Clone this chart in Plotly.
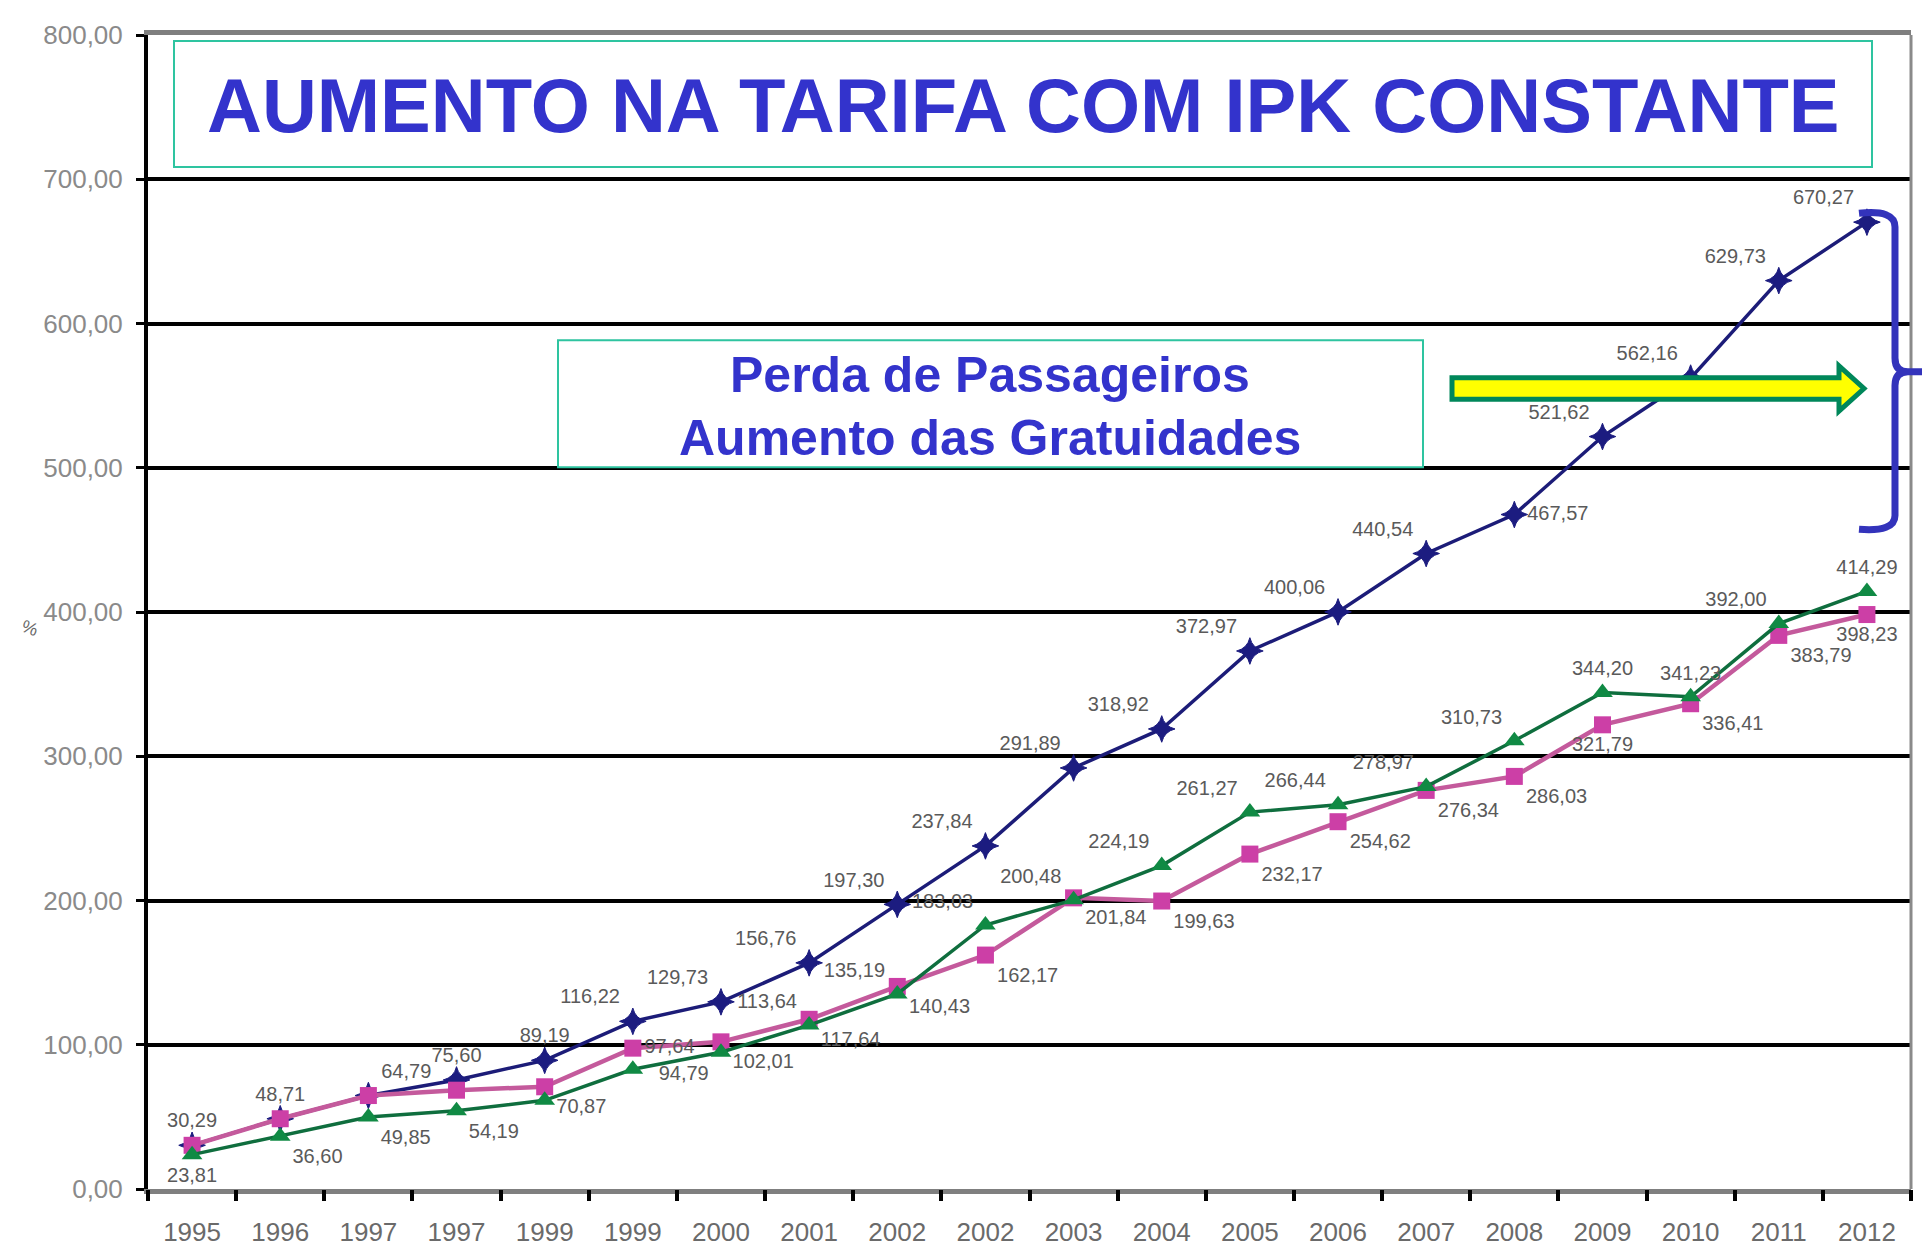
import plotly.graph_objects as go

# ---------------- data ----------------
years = ["1995", "1996", "1997", "1997", "1999", "1999", "2000", "2001", "2002", "2002",
         "2003", "2004", "2005", "2006", "2007", "2008", "2009", "2010", "2011", "2012"]

tarifa = [30.29, 48.71, 64.79, 75.60, 89.19, 116.22, 129.73, 156.76, 197.30, 237.84,
          291.89, 318.92, 372.97, 400.06, 440.54, 467.57, 521.62, 562.16, 629.73, 670.27]
indice_rosa = [30.29, 48.71, 64.79, 68.50, 70.87, 97.64, 102.01, 117.64, 140.43, 162.17,
               201.84, 199.63, 232.17, 254.62, 276.34, 286.03, 321.79, 336.41, 383.79, 398.23]
indice_verde = [23.81, 36.60, 49.85, 54.19, 61.50, 83.00, 94.79, 113.64, 135.19, 183.03,
                200.48, 224.19, 261.27, 266.44, 278.97, 310.73, 344.20, 341.23, 392.00, 414.29]

show_tarifa = [True] * 20
show_rosa = [False, False, False, False] + [True] * 16
show_verde = [True, True, True, True, False, False] + [True] * 14

pos_tarifa = ["top center", "top center", "top right", "top center", "top center"] + \
             ["top left"] * 10 + ["middle right"] + ["top left"] * 4
pos_rosa = ["bottom right"] * 5 + ["middle right"] + ["bottom right"] * 10 + \
           ["bottom center"] + ["bottom right"] * 2 + ["bottom center"]
pos_verde = ["bottom center", "bottom right", "bottom right", "bottom right", "bottom right",
             "bottom right", "bottom left", "top left", "top left", "top left",
             "top left", "top left", "top left", "top left", "top left", "top left",
             "top center", "top center", "top left", "top center"]

x = list(range(len(years)))


def fmt(v):
    return f"{v:.2f}".replace(".", ",")


def labels(vals, show):
    return [fmt(v) if s else "" for v, s in zip(vals, show)]


# ---------------- layout geometry ----------------
W, H = 1930, 1251
L, R, T, B = 140, 27, 22, 57
PW, PH = W - L - R, H - T - B


def px(xp):
    return (xp - L) / PW


def py(yp):
    return (H - B - yp) / PH


label_font = dict(family="Liberation Sans, Arial, sans-serif", size=20, color="#5a5a5a")

fig = go.Figure()

fig.add_trace(go.Scatter(
    x=x, y=tarifa, mode="lines+markers+text",
    line=dict(color="#1c1c78", width=3.5),
    marker=dict(symbol="star-diamond", size=19, color="#1c1c80",
                line=dict(color="#1c1c80", width=1)),
    text=labels(tarifa, show_tarifa), textposition=pos_tarifa,
    textfont=label_font, cliponaxis=False, showlegend=False))

fig.add_trace(go.Scatter(
    x=x, y=indice_rosa, mode="lines+markers+text",
    line=dict(color="#c45a9c", width=4.5),
    marker=dict(symbol="square", size=17, color="#cc3fa6"),
    text=labels(indice_rosa, show_rosa), textposition=pos_rosa,
    textfont=label_font, cliponaxis=False, showlegend=False))

fig.add_trace(go.Scatter(
    x=x, y=indice_verde, mode="lines+markers+text",
    line=dict(color="#0f6e3e", width=3.5),
    marker=dict(symbol="triangle-up", size=18, color="#108a44"),
    text=labels(indice_verde, show_verde), textposition=pos_verde,
    textfont=label_font, cliponaxis=False, showlegend=False))

# invisible trace on xaxis2 (boundary tick marks)
fig.add_trace(go.Scatter(x=[x[0]], y=[tarifa[0]], xaxis="x2", mode="markers",
                         marker=dict(opacity=0), showlegend=False, hoverinfo="skip"))

fig.update_layout(
    width=W, height=H,
    margin=dict(l=L, r=R, t=T, b=B),
    paper_bgcolor="white", plot_bgcolor="white",
    separators=",.",
    xaxis=dict(range=[-0.5, len(years) - 0.5], tickmode="array", tickvals=x, ticktext=years,
               ticks="", showgrid=False, zeroline=False,
               showline=True, linecolor="#7f7f7f", linewidth=5, mirror=True,
               tickfont=dict(family="Liberation Sans Narrow, Arial Narrow, Liberation Sans, sans-serif",
                             size=26, color="#6a6a6a"),
               ticklabelstandoff=16),
    xaxis2=dict(range=[-0.5, len(years) - 0.5], overlaying="x", anchor="y", side="bottom",
                tickmode="linear", tick0=-0.5, dtick=1, ticks="outside", ticklen=11,
                tickwidth=4, tickcolor="black", showticklabels=False, showgrid=False,
                zeroline=False, showline=False),
    yaxis=dict(range=[0, 800], dtick=100, tickformat=".2f", showgrid=True,
               gridcolor="black", gridwidth=3.5, zeroline=False,
               showline=True, linecolor="black", linewidth=4,
               ticks="outside", ticklen=8, tickwidth=3, tickcolor="black",
               tickfont=dict(family="Liberation Sans, Arial, sans-serif", size=26, color="#8a8a8a"),
               ticklabelstandoff=8),
)

shapes = []
# right border
shapes.append(dict(type="line", xref="paper", yref="paper", x0=1, x1=1, y0=0, y1=1,
                   line=dict(color="#8a8a8a", width=3)))
# title box
shapes.append(dict(type="rect", xref="paper", yref="paper",
                   x0=px(166), x1=px(1864), y0=py(156), y1=py(28),
                   fillcolor="white", line=dict(color="#2ec4a0", width=2), layer="above"))
# secondary box
shapes.append(dict(type="rect", xref="paper", yref="paper",
                   x0=px(550), x1=px(1415), y0=py(461), y1=py(332),
                   fillcolor="white", line=dict(color="#2ec4a0", width=2), layer="above"))


def path(pts_cmds):
    out = []
    for cmd, pts in pts_cmds:
        coords = " ".join(f"{px(a):.5f},{py(b):.5f}" for a, b in pts)
        out.append(f"{cmd} {coords}".strip())
    return " ".join(out)


arrow = path([("M", [(1444, 370)]), ("L", [(1831, 370)]), ("L", [(1831, 358)]),
              ("L", [(1856, 381)]), ("L", [(1831, 404)]), ("L", [(1831, 392)]),
              ("L", [(1444, 392)]), ("Z", [])])
shapes.append(dict(type="path", xref="paper", yref="paper", path=arrow,
                   fillcolor="#ffff00", line=dict(color="#00875a", width=5), layer="above"))

brace = path([("M", [(1851, 203)]), ("Q", [(1887, 199), (1887, 217)]), ("L", [(1887, 350)]),
              ("Q", [(1887, 364), (1900, 364)]), ("L", [(1928, 364)]),
              ("M", [(1900, 364)]), ("Q", [(1887, 364), (1887, 378)]), ("L", [(1887, 510)]),
              ("Q", [(1887, 527), (1851, 524)])])
shapes.append(dict(type="path", xref="paper", yref="paper", path=brace,
                   line=dict(color="#3333bb", width=7), layer="above"))

fig.update_layout(shapes=shapes)

annotations = [
    dict(text="<b>AUMENTO NA TARIFA COM IPK CONSTANTE</b>", xref="paper", yref="paper",
         x=px(1015), y=py(94), xanchor="center", yanchor="middle", showarrow=False,
         font=dict(family="Liberation Sans, Arial, sans-serif", size=76, color="#3333cc")),
    dict(text="<b>Perda de Passageiros</b>", xref="paper", yref="paper",
         x=px(982), y=py(367), xanchor="center", yanchor="middle", showarrow=False,
         font=dict(family="Liberation Sans, Arial, sans-serif", size=50, color="#3333cc")),
    dict(text="<b>Aumento das Gratuidades</b>", xref="paper", yref="paper",
         x=px(982), y=py(431), xanchor="center", yanchor="middle", showarrow=False,
         font=dict(family="Liberation Sans, Arial, sans-serif", size=50, color="#3333cc")),
    dict(text="%", xref="paper", yref="paper", x=px(22), y=py(624),
         xanchor="center", yanchor="middle", showarrow=False, textangle=20,
         font=dict(family="Liberation Sans, Arial, sans-serif", size=18, color="#6a6a6a")),
]
fig.update_layout(annotations=annotations)

fig.write_html("out.html")
